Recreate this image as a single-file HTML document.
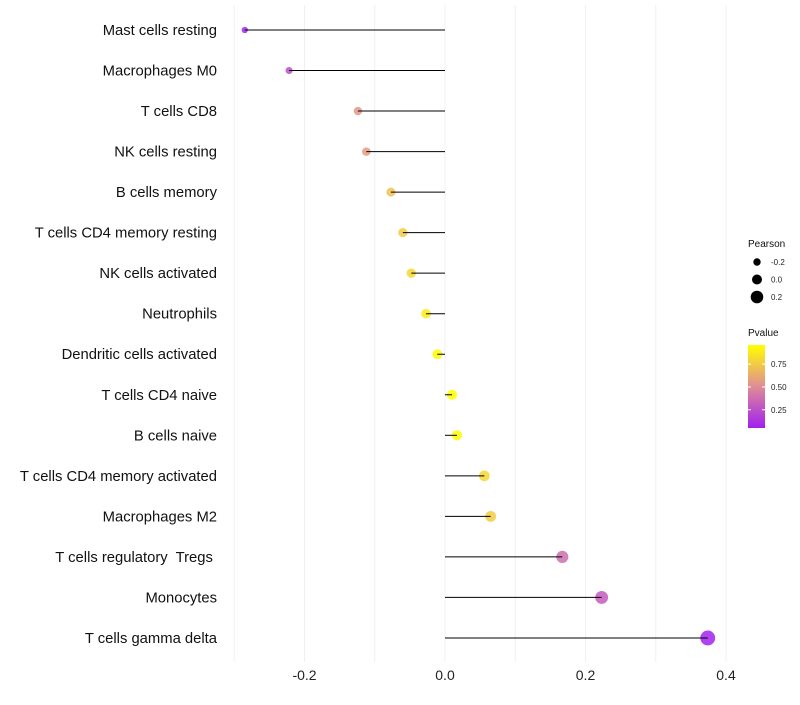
<!DOCTYPE html>
<html><head><meta charset="utf-8"><style>
body{margin:0;background:#fff;font-family:"Liberation Sans",sans-serif}
text{white-space:pre}
</style></head><body>
<svg id="chart" width="800" height="700" xmlns="http://www.w3.org/2000/svg" font-family="Liberation Sans, sans-serif"></svg>
<script>
const categories=["Mast cells resting","Macrophages M0","T cells CD8","NK cells resting","B cells memory","T cells CD4 memory resting","NK cells activated","Neutrophils","Dendritic cells activated","T cells CD4 naive","B cells naive","T cells CD4 memory activated","Macrophages M2","T cells regulatory  Tregs ","Monocytes","T cells gamma delta"];
const pearson=[-0.285,-0.222,-0.124,-0.112,-0.077,-0.060,-0.048,-0.027,-0.011,0.010,0.017,0.056,0.065,0.167,0.223,0.374];
const pvalue=[0.08,0.25,0.55,0.57,0.72,0.76,0.80,0.88,0.94,0.97,0.95,0.80,0.76,0.38,0.30,0.06];
const xTicks=[-0.2,0,0.2,0.4];
const xTickLabels=["-0.2","0.0","0.2","0.4"];
const gridVals=[-0.3,-0.2,-0.1,0,0.1,0.2,0.3,0.4];
const legendSizes=[-0.2,0.0,0.2];
const legendColorTicks=[0.25,0.5,0.75];

const svg=document.getElementById('chart');
const NS="http://www.w3.org/2000/svg";
function el(t,a,p){const e=document.createElementNS(NS,t);for(const k in a)e.setAttribute(k,a[k]);(p||svg).appendChild(e);return e;}
const x=v=>445+v*702.5;
const y=i=>30+i*40.53;
const r=v=>Math.max(2,5+6.5*v);
function col(p){const t=Math.max(0,Math.min(1,(p-0.05)/(0.96-0.05)));
 const a=[160,32,240],m=[224,140,150],b=[255,255,0];let c;
 if(t<0.5){const u=t/0.5;c=a.map((v,k)=>v+(m[k]-v)*u);}else{const u=(t-0.5)/0.5;c=m.map((v,k)=>v+(b[k]-v)*u);}
 return `rgb(${c.map(Math.round).join(',')})`;}

gridVals.forEach(g=>{const l=el('line',{x1:x(g),x2:x(g),y1:5,y2:662,stroke:'#f0f0f0','stroke-width':1});
});
xTicks.forEach((t,i)=>{const tx=el('text',{x:x(t),y:680,'text-anchor':'middle','font-size':14,fill:'#222'});tx.textContent=xTickLabels[i];
});
categories.forEach((c,i)=>{
 const tx=el('text',{x:217,y:y(i)+5,'text-anchor':'end','font-size':14.8,fill:'#111'});tx.textContent=c;
 
 const pt=el('circle',{cx:x(pearson[i]),cy:y(i),r:r(pearson[i]),fill:col(pvalue[i]),'fill-opacity':0.85});
 
 const ln=el('line',{x1:x(0),x2:x(pearson[i]),y1:y(i),y2:y(i),stroke:'#000','stroke-width':1});
 
});
let t=el('text',{x:748,y:247,'font-size':10,fill:'#111'});t.textContent='Pearson';

legendSizes.forEach((v,i)=>{const cy=262+i*17.5;
 const c=el('circle',{cx:757,cy:cy,r:r(v),fill:'#000'});
 const l=el('text',{x:771,y:cy+3,'font-size':8,fill:'#222'});l.textContent=v===0?'0.0':v.toFixed(1);
 });
t=el('text',{x:748,y:336,'font-size':10,fill:'#111'});t.textContent='Pvalue';

const defs=el('defs',{});const gr=el('linearGradient',{id:'pg',x1:0,y1:1,x2:0,y2:0},defs);
[0,0.25,0.5,0.75,1].forEach(s=>el('stop',{offset:s,'stop-color':col(0.05+s*0.91)},gr));
const bar=el('rect',{x:748,y:345,width:17,height:83,fill:'url(#pg)'});

const py=p=>428-(p-0.05)/(0.96-0.05)*83;
legendColorTicks.forEach(p=>{
 el('line',{x1:748,x2:751,y1:py(p),y2:py(p),stroke:'#fff'});el('line',{x1:762,x2:765,y1:py(p),y2:py(p),stroke:'#fff'});
 const l=el('text',{x:771,y:py(p)+3,'font-size':8,fill:'#222'});l.textContent=p.toFixed(2);
 });
</script>
</body></html>
